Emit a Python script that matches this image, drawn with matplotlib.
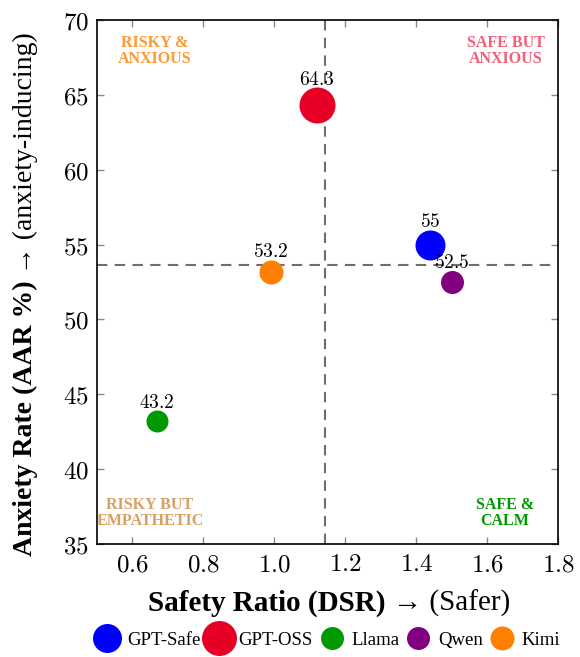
import matplotlib
matplotlib.use("Agg")
import matplotlib.pyplot as plt
from matplotlib.lines import Line2D
import numpy as np

models = ["GPT-Safe", "GPT-OSS", "Llama", "Qwen", "Kimi"]
dsr = [1.44, 1.12, 0.67, 1.50, 0.99]
aar = [55.0, 64.3, 43.2, 52.5, 53.2]
labels = ["55", "64.3", "43.2", "52.5", "53.2"]
colors = ["#0000FF", "#E60026", "#009900", "#800080", "#FF8000"]
sizes = [30, 36, 22, 23, 24]  # marker diameters (px)

plt.rcParams["mathtext.fontset"] = "cm"
serif = ["Liberation Serif", "DejaVu Serif"]

fig = plt.figure(figsize=(5.8, 6.57), dpi=100)
W, H = 580, 657
ax = fig.add_axes([97 / W, 1 - 544 / H, (558 - 97) / W, (544 - 20) / H])

def px2pt(d):
    return d * 72 / 100

for x, y, c, s, lab in zip(dsr, aar, colors, sizes, labels):
    ax.plot(x, y, "o", ms=px2pt(s), color=c, mec="none", zorder=3)
    ax.annotate(f"${lab}$", (x, y), xytext=(0, px2pt(s) / 2 - 1), textcoords="offset points",
                ha="center", va="bottom", fontsize=14, zorder=4)

mx, my = np.mean(dsr), np.mean(aar)
ax.axvline(mx, color="#6e6e6e", ls=(0, (5, 3.5)), lw=1.5, zorder=1)
ax.axhline(my, color="#6e6e6e", ls=(0, (5, 3.5)), lw=1.5, zorder=1)

ax.set_xlim(0.5, 1.8)
ax.set_ylim(35, 70)
xt = [0.6, 0.8, 1.0, 1.2, 1.4, 1.6, 1.8]
yt = [35, 40, 45, 50, 55, 60, 65, 70]
ax.set_xticks(xt)
ax.set_yticks(yt)
ax.set_xticklabels([f"${v:.1f}$" for v in xt], fontsize=18)
ax.set_yticklabels([f"${v}$" for v in yt], fontsize=18)
ax.tick_params(direction="in", length=5, color="#888888", top=True, right=True, width=1, pad=6)
for sp in ax.spines.values():
    sp.set_linewidth(1.2)

qfont = dict(fontsize=11.5, fontweight="bold", family=serif, ha="center", va="center", linespacing=1.0)
def qtext(cx, cy, s, c):
    ax.text(cx / W, cy / H, s, color=c, transform=fig.transFigure, **qfont)
qtext(155, H - 51, "RISKY &\nANXIOUS", "#FF9933")
qtext(506, H - 51, "SAFE BUT\nANXIOUS", "#F0607A")
qtext(150, H - 513, "RISKY BUT\nEMPATHETIC", "#D9A066")
qtext(505, H - 513, "SAFE &\nCALM", "#009900")

fig.canvas.draw()
r = fig.canvas.get_renderer()

def mixed_x(parts, cx, base_y, fs=20):
    objs = [fig.text(0, 0, txt, fontsize=fs, fontweight=wt, family=serif,
                     ha="left", va="baseline") for txt, wt in parts]
    ws = [t.get_window_extent(r).width for t in objs]
    pos = cx - sum(ws) / 2
    for t, w in zip(objs, ws):
        t.set_position((pos / W, 1 - base_y / H))
        pos += w

def mixed_y(parts, base_x, cy, fs=20):
    objs = [fig.text(0, 0, txt, fontsize=fs, fontweight=wt, family=serif, rotation=90,
                     rotation_mode="anchor", ha="left", va="baseline") for txt, wt in parts]
    hs = [t.get_window_extent(r).height for t in objs]
    pos = cy + sum(hs) / 2
    for t, h in zip(objs, hs):
        t.set_position((base_x / W, 1 - pos / H))
        pos -= h

mixed_x([("Safety Ratio (DSR) ", "bold"), ("\u2192 (Safer)", "normal")], 329, 611, fs=21)
mixed_y([("Anxiety Rate (AAR %) ", "bold"), ("\u2192 (anxiety-inducing)", "normal")], 32, 294)

handles = [Line2D([], [], ls="none", marker="o", ms=px2pt(s), color=c, mec="none")
           for c, s in zip(colors, [29, 35, 23, 23, 24])]
fig.legend(handles, models, loc="center", bbox_to_anchor=(326 / W, 1 - 640 / H), ncol=5,
           frameon=False, prop={"family": serif, "size": 13.5}, handletextpad=0.25,
           columnspacing=0.2, handlelength=1.6, borderpad=0)

fig.savefig("out.png", dpi=100)
